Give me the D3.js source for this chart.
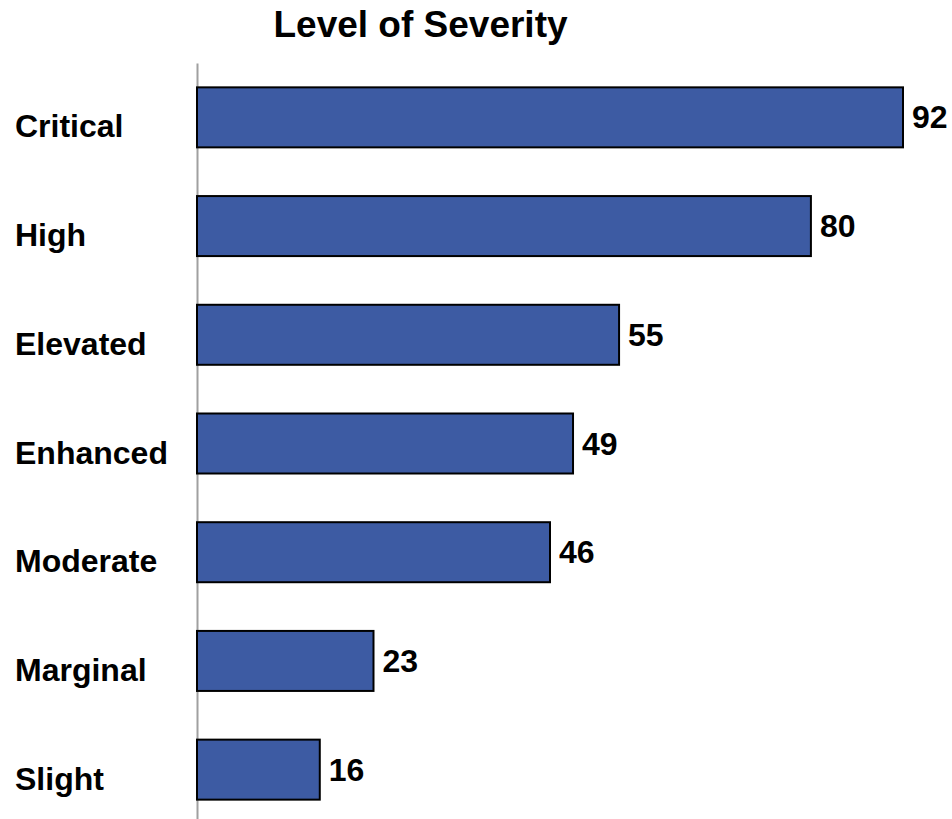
<!DOCTYPE html>
<meta charset="utf-8">
<head>
	<style>
		body {
			margin: 0;
			background: white;
			font-family: Arial, "Liberation Sans", Helvetica, sans-serif;
		}
		svg { display: block; }
	</style>
	<script src="https://cdn.jsdelivr.net/npm/d3@7"></script>
</head>
<body>
	<svg id="chart"></svg>
</body>
<script>

// chart values
let categories = ["Critical", "High", "Elevated", "Enhanced", "Moderate", "Marginal", "Slight"]
let values = [92, 80, 55, 49, 46, 23, 16]
let title = "Level of Severity"

function getConfig() {
	let width = 952
	let height = 819
	// axis sits at x=197, bands run from y=63 past the bottom edge
	let margin = {top: 63, left: 197, right: 49}
	let container = d3.select("#chart")
		.attr("width", width)
		.attr("height", height)
	return { width, height, margin, container }
}

function getScales(config) {
	let { width, margin } = config

	let xScale = d3.scaleLinear()
		.domain([0, d3.max(values)])
		.range([margin.left, width - margin.right])

	let yScale = d3.scaleBand()
		.domain(categories)
		.range([margin.top, margin.top + 761])
		.paddingInner(0.448)
		.paddingOuter(0.224)

	return { xScale, yScale }
}

function drawBars(scales, config) {
	let { xScale, yScale } = scales
	let { container } = config
	let data = categories.map((c, i) => ({ cat: c, val: values[i] }))

	let bars = container.append("g")
		.selectAll("g")
		.data(data)
		.enter()
		.append("g")

	bars.append("rect")
		.attr("x", xScale(0))
		.attr("y", d => yScale(d.cat))
		.attr("width", d => xScale(d.val) - xScale(0))
		.attr("height", yScale.bandwidth())
		.attr("fill", "#3d5ba3")
		.attr("stroke", "#000")
		.attr("stroke-width", 2)

	// value at the end of each bar
	bars.append("text")
		.attr("x", d => xScale(d.val) + 9)
		.attr("y", d => yScale(d.cat) + yScale.bandwidth() / 2 + 11)
		.attr("font-size", "32px")
		.attr("font-weight", "bold")
		.attr("fill", "#000")
		.text(d => d.val)

	// category names on the left
	bars.append("text")
		.attr("x", 15)
		.attr("y", d => yScale(d.cat) + yScale.bandwidth() / 2 + 20)
		.attr("font-size", "32px")
		.attr("font-weight", "bold")
		.attr("fill", "#000")
		.text(d => d.cat)
}

function drawAxis(scales, config) {
	let { xScale, yScale } = scales
	let { container } = config

	// plain gray category axis, no ticks
	let axisY = d3.axisLeft(yScale).tickSize(0).tickFormat("")
	let g = container.append("g")
		.attr("transform", `translate(${xScale(0)},0)`)
		.call(axisY)
	g.select(".domain")
		.attr("stroke", "#a0a0a0")
		.attr("stroke-width", 2)
}

function drawTitle(config) {
	config.container.append("text")
		.attr("x", 420.5)
		.attr("y", 37)
		.attr("text-anchor", "middle")
		.attr("font-size", "37px")
		.attr("font-weight", "bold")
		.attr("fill", "#000")
		.text(title)
}

let config = getConfig()
let scales = getScales(config)
drawAxis(scales, config)
drawBars(scales, config)
drawTitle(config)

</script>
